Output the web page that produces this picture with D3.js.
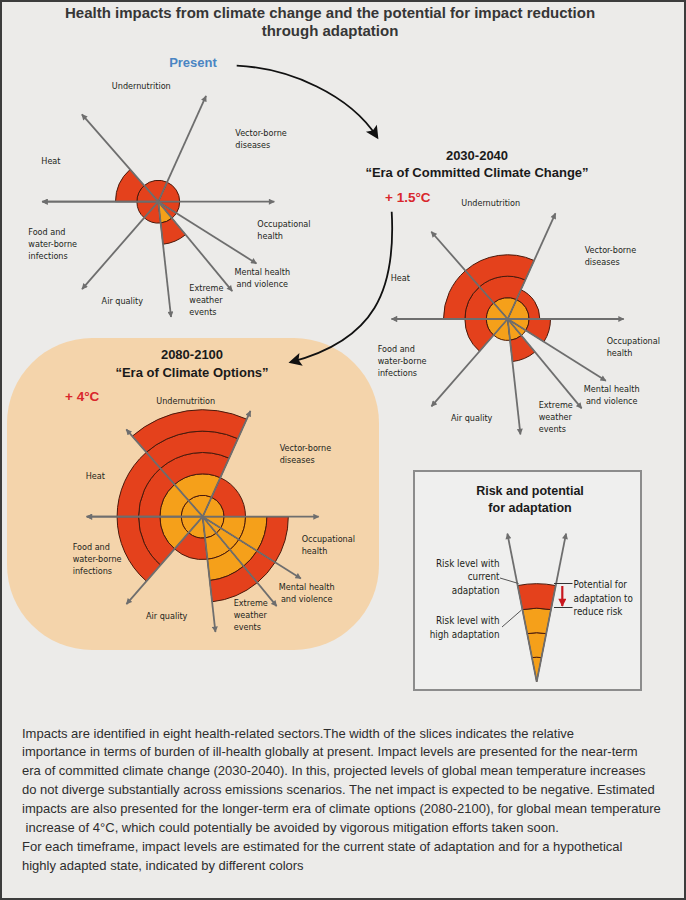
<!DOCTYPE html>
<html><head><meta charset="utf-8">
<script src="https://cdnjs.cloudflare.com/ajax/libs/d3/7.8.5/d3.min.js"></script>
<style>
html,body{margin:0;padding:0;background:#ecebe9;}
svg{display:block;}
.lab{font-family:'DejaVu Sans Condensed','Liberation Sans Narrow',sans-serif;font-stretch:condensed;font-size:9px;fill:#231f20;}
</style></head>
<body>
<script>
// ---------- DATA ----------
const sectorNames = ["Vector-borne diseases","Undernutrition","Heat","Food and water-borne infections","Air quality","Extreme weather events","Mental health and violence","Occupational health"];
const sectorLines = [["Vector-borne","diseases"],["Undernutrition"],["Heat"],["Food and","water-borne","infections"],["Air quality"],["Extreme","weather","events"],["Mental health","and violence"],["Occupational","health"]];
// ray angles (degrees counter-clockwise from east) where each sector starts
const rayAngles = [0, 65.7, 131.2, 180, 228.9, 276.3, 309.6, 327.8];
// impact levels: current adaptation (red) and high adaptation (orange)
const presentCurrent = [1, 1, 2, 1, 1, 2, 1, 1];
const presentHigh    = [0, 0, 0, 0, 0, 1, 0, 0];
const era2030Current = [1.5, 3, 3, 2, 1, 2, 1, 2];
const era2030High    = [1, 1, 1, 1, 1, 1, 1, 1];
const era2080Current = [2, 5, 4, 4, 2, 4, 4, 4];
const era2080High    = [1, 2, 2, 2, 1, 3, 3, 3];
const legendCurrent = [4];
const legendHigh = [3];
const titleLines = ["Health impacts from climate change and the potential for impact reduction","through adaptation"];
const noteLines = [
"Impacts are identified in eight health-related sectors.The width of the slices indicates the relative",
"importance in terms of burden of ill-health globally at present. Impact levels are presented for the near-term",
"era of committed climate change (2030-2040). In this, projected levels of global mean temperature increases",
"do not diverge substantially across emissions scenarios. The net impact is expected to be negative. Estimated",
"impacts are also presented for the longer-term era of climate options (2080-2100), for global mean temperature",
" increase of 4\u00B0C, which could potentially be avoided by vigorous mitigation efforts taken soon.",
"For each timeframe, impact levels are estimated for the current state of adaptation and for a hypothetical",
"highly adapted state, indicated by different colors"];

// ---------- STYLE ----------
const RED = "#e4411c", ORANGE = "#f5a01a", EDGE = "#4a1a0c", RAY = "#6e6e6e";
const BOLD = "'Liberation Sans',Arial,sans-serif";
const W = 686, H = 900;

const svg = d3.select("body").append("svg").attr("width", W).attr("height", H);
const defs = svg.append("defs");
defs.append("marker").attr("id","gArrow").attr("viewBox","0 0 10 10").attr("refX",9).attr("refY",5)
  .attr("markerWidth",7).attr("markerHeight",6).attr("markerUnits","userSpaceOnUse").attr("orient","auto")
  .append("path").attr("d","M0,0L10,5L0,10Z").attr("fill",RAY);
defs.append("marker").attr("id","bArrow").attr("viewBox","0 0 10 10").attr("refX",8).attr("refY",5)
  .attr("markerWidth",16).attr("markerHeight",13).attr("markerUnits","userSpaceOnUse").attr("orient","auto")
  .append("path").attr("d","M0,0L10,5L0,10L2,5Z").attr("fill","#111");
defs.append("marker").attr("id","rArrow").attr("viewBox","0 0 10 10").attr("refX",9).attr("refY",5)
  .attr("markerWidth",9).attr("markerHeight",8).attr("markerUnits","userSpaceOnUse").attr("orient","auto")
  .append("path").attr("d","M0,0L10,5L0,10Z").attr("fill","#c8171e");

svg.append("rect").attr("x",0).attr("y",0).attr("width",W).attr("height",H).attr("fill","#ecebe9");
svg.append("rect").attr("x",1).attr("y",1).attr("width",W-2).attr("height",H-2).attr("fill","none").attr("stroke","#3c3c3c").attr("stroke-width",2);

// Title
svg.append("g").selectAll("text").data(titleLines).join("text")
  .attr("x",330).attr("y",(d,i)=>18+i*18).attr("text-anchor","middle")
  .attr("font-family",BOLD).attr("font-weight","bold").attr("font-size",15)
  .attr("fill","#363636").text(d=>d);

// peach box for 2080
svg.append("rect").attr("x",7).attr("y",338).attr("width",372).attr("height",312).attr("rx",85).attr("ry",85).attr("fill","#f4d4ab");

// ---------- wheel ----------
const toD3 = a => (90 - a) * Math.PI / 180; // math angle -> d3 arc angle
function bands(cur, hi){
  const out = [];
  for (let k = 0; k < cur; k++){
    const o = Math.min(k+1, cur);
    out.push({inner:k, outer:o, fill: o <= hi ? ORANGE : RED});
  }
  return out;
}
function wheel(cx, cy, current, high){
  const g = svg.append("g").attr("transform",`translate(${cx},${cy})`);
  const r = d3.scaleLinear().domain([0,1]).range([0,21.4]);
  const arc = d3.arc();
  sectorNames.forEach((name,i)=>{
    const a0 = rayAngles[i], a1 = i < rayAngles.length-1 ? rayAngles[i+1] : 360;
    g.append("g").selectAll("path").data(bands(current[i], high[i])).join("path")
      .attr("d", d => arc({innerRadius:r(d.inner), outerRadius:r(d.outer), startAngle:toD3(a1), endAngle:toD3(a0)}))
      .attr("fill", d=>d.fill).attr("stroke",EDGE).attr("stroke-width",1);
  });
  const len = 116;
  g.append("g").selectAll("line").data(rayAngles).join("line")
    .attr("x1",0).attr("y1",0)
    .attr("x2",d=>len*Math.cos(d*Math.PI/180)).attr("y2",d=>-len*Math.sin(d*Math.PI/180))
    .attr("stroke",RAY).attr("stroke-width",1.8).attr("marker-end","url(#gArrow)");
  g.append("line").attr("x1",0).attr("y1",0).attr("x2",-len).attr("y2",0)
    .attr("stroke",RAY).attr("stroke-width",1.8).attr("marker-end","url(#gArrow)");
  const lay = [
    {dx:77, dy:-69, a:"start"},
    {dx:-17, dy:-116, a:"middle"},
    {dx:-117, dy:-41, a:"start"},
    {dx:-130, dy:30, a:"start"},
    {dx:-36, dy:99, a:"middle"},
    {dx:31, dy:86, a:"start"},
    {dx:104, dy:70, a:"middle"},
    {dx:99, dy:22, a:"start"}
  ];
  sectorLines.forEach((lines,i)=>{
    const L = lay[i];
    g.append("text").attr("class","lab").attr("text-anchor",L.a)
      .selectAll("tspan").data(lines).join("tspan")
      .attr("x",L.dx).attr("y",(d,j)=>L.dy+3.3+j*12).text(d=>d);
  });
  return g;
}

wheel(158.3, 201.7, presentCurrent, presentHigh);
wheel(507.7, 319, era2030Current, era2030High);
wheel(202.7, 516.7, era2080Current, era2080High);

// headers
const hdr = (x,y,t,opt={}) => svg.append("text").attr("x",x).attr("y",y).attr("text-anchor",opt.a||"middle")
  .attr("font-family",BOLD).attr("font-weight","bold")
  .attr("font-size",opt.s||13).attr("fill",opt.c||"#1a1a1a").text(t);
hdr(193,66.5,"Present",{c:"#4a85c3",s:13});
hdr(477,160,"2030-2040",{s:13});
hdr(477,177,"\u201CEra of Committed Climate Change\u201D",{s:13});
hdr(385,202,"+ 1.5\u00B0C",{a:"start",c:"#d9262c",s:13.5});
hdr(192,359,"2080-2100",{s:13});
hdr(192,377,"\u201CEra of Climate Options\u201D",{s:13});
hdr(65,401,"+ 4\u00B0C",{a:"start",c:"#d9262c",s:13.5});

// curved black arrows
svg.append("path").attr("d", (()=>{const p=d3.path();p.moveTo(236.7,65.7);p.bezierCurveTo(290,68,350,95,377,137);return p.toString();})())
  .attr("fill","none").attr("stroke","#111").attr("stroke-width",1.8).attr("marker-end","url(#bArrow)");
svg.append("path").attr("d", (()=>{const p=d3.path();p.moveTo(391.7,211.7);p.bezierCurveTo(396,290,375,340,291,362);return p.toString();})())
  .attr("fill","none").attr("stroke","#111").attr("stroke-width",1.8).attr("marker-end","url(#bArrow)");

// ---------- legend box ----------
svg.append("rect").attr("x",414).attr("y",471).attr("width",227).attr("height",219)
  .attr("fill","#efefee").attr("stroke","#8c8c8c").attr("stroke-width",2);
hdr(530,495,"Risk and potential",{s:12.5});
hdr(530,511.5,"for adaptation",{s:12.5});
(function(){
  const cx = 536.7, cy = 681.7, half = 11.2;
  const g = svg.append("g").attr("transform",`translate(${cx},${cy})`);
  const r = d3.scaleLinear().domain([0,1]).range([0,24.5]);
  const arc = d3.arc();
  g.selectAll("path").data(bands(legendCurrent[0], legendHigh[0])).join("path")
    .attr("d", d=>arc({innerRadius:r(d.inner), outerRadius:r(d.outer), startAngle:-half*Math.PI/180, endAngle:half*Math.PI/180}))
    .attr("fill",d=>d.fill).attr("stroke",EDGE).attr("stroke-width",1);
  g.selectAll("line").data([-half, half]).join("line")
    .attr("x1",0).attr("y1",0)
    .attr("x2",d=>151*Math.sin(d*Math.PI/180)).attr("y2",d=>-151*Math.cos(d*Math.PI/180))
    .attr("stroke",RAY).attr("stroke-width",1.8).attr("marker-end","url(#gArrow)");
})();
const legLab = (x,y,lines,a) => svg.append("text").attr("class","lab").style("font-size","9.8px").attr("text-anchor",a)
  .selectAll("tspan").data(lines).join("tspan").attr("x",x).attr("y",(d,j)=>y+j*13.5).text(d=>d);
legLab(499.5,566.5,["Risk level with","current","adaptation"],"end");
legLab(499.5,624,["Risk level with","high adaptation"],"end");
legLab(573.5,588,["Potential for","adaptation to","reduce risk"],"start");
svg.append("line").attr("x1",500).attr("y1",578).attr("x2",518.5).attr("y2",583.5).attr("stroke","#555").attr("stroke-width",1);
svg.append("line").attr("x1",502).attr("y1",627).attr("x2",521.5).attr("y2",610).attr("stroke","#555").attr("stroke-width",1);
svg.append("line").attr("x1",554).attr("y1",583.5).attr("x2",572.5).attr("y2",583.5).attr("stroke","#333").attr("stroke-width",1);
svg.append("line").attr("x1",554).attr("y1",607.5).attr("x2",572.5).attr("y2",607.5).attr("stroke","#333").attr("stroke-width",1);
svg.append("line").attr("x1",562.3).attr("y1",586).attr("x2",562.3).attr("y2",606).attr("stroke","#c8171e").attr("stroke-width",2.2).attr("marker-end","url(#rArrow)");

// ---------- note text ----------
svg.append("g").selectAll("text").data(noteLines).join("text")
  .attr("x",22).attr("y",(d,i)=>737.5+i*18.9)
  .attr("font-family","'Liberation Sans',Arial,sans-serif").attr("font-size",13)
  .attr("fill","#2e2e2e").attr("xml:space","preserve").style("white-space","pre").text(d=>d);
</script>
</body></html>
